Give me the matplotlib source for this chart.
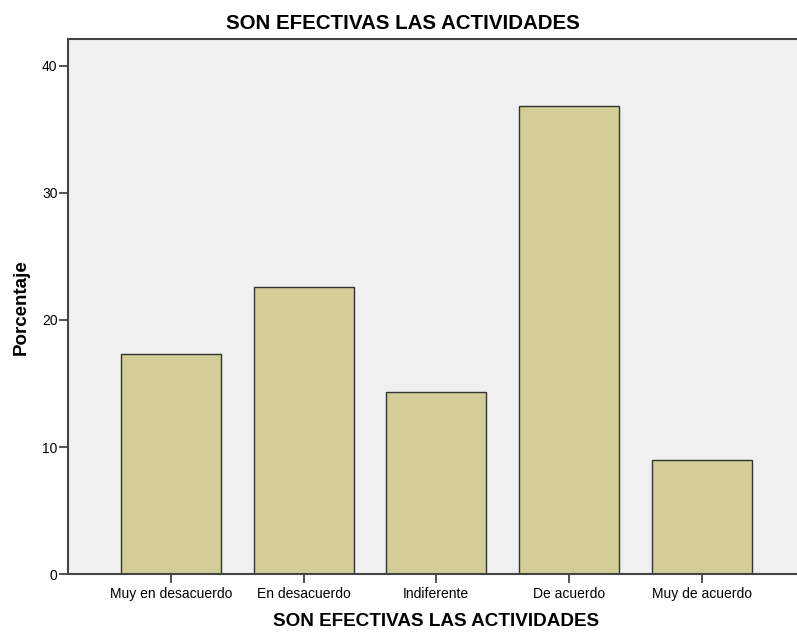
import matplotlib
matplotlib.use("Agg")
import matplotlib.pyplot as plt
import numpy as np

plt.rcParams["font.family"] = ["Liberation Sans", "DejaVu Sans"]

categories = ["Muy en desacuerdo", "En desacuerdo", "Indiferente", "De acuerdo", "Muy de acuerdo"]
porcentaje = [17.3, 22.6, 14.3, 36.8, 9.0]
yticks = [0, 10, 20, 30, 40]

fig = plt.figure(figsize=(7.97, 6.34), dpi=100)
ax = fig.add_axes([0.0853, 0.0942, 0.9147, 0.8443])
ax.set_facecolor("#f0f0f0")

x = np.arange(len(categories))
ax.bar(x, porcentaje, width=0.754, color="#d3ce97", edgecolor="#333333", linewidth=1.0, zorder=2)

ax.set_xlim(-0.777, 4.72)
ax.set_ylim(0, 42.1)
ax.set_xticks(x)
ax.set_xticklabels(categories, fontsize=10)
ax.set_yticks(yticks)
ax.tick_params(axis="both", labelsize=10, color="#333333", width=1.2, length=6.5, direction="out")
ax.tick_params(axis="x", pad=3)
ax.tick_params(axis="y", pad=1)

for side in ["left", "bottom", "top"]:
    ax.spines[side].set_color("#444444")
    ax.spines[side].set_linewidth(1.5)
ax.spines["right"].set_visible(False)

ax.set_ylabel("Porcentaje", fontsize=13.5, fontweight="bold", labelpad=9)
ax.set_xlabel("SON EFECTIVAS LAS ACTIVIDADES", fontsize=13.6, fontweight="bold", labelpad=8)
ax.xaxis.label.set_x(0.5055)
fig.text(0.505, 0.963, "SON EFECTIVAS LAS ACTIVIDADES", ha="center", va="center",
         fontsize=14.8, fontweight="bold")

fig.savefig("out.png", dpi=100)
